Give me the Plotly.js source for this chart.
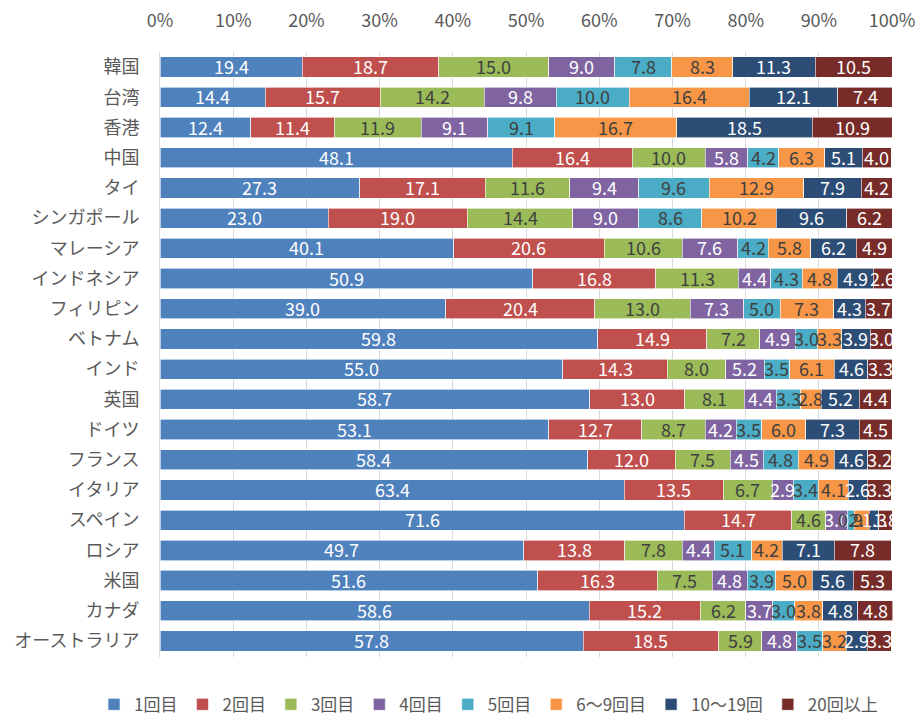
<!DOCTYPE html>
<html><head><meta charset="utf-8">
<script src="https://cdn.plot.ly/plotly-3.0.1.min.js"></script>
<style>html,body{margin:0;padding:0;background:#fff}#chart{width:918px;height:715px}</style>
</head><body><div id="chart"></div>
<script>
const countries = ["韓国","台湾","香港","中国","タイ","シンガポール","マレーシア","インドネシア","フィリピン","ベトナム","インド","英国","ドイツ","フランス","イタリア","スペイン","ロシア","米国","カナダ","オーストラリア"];
const seriesNames = ["1回目","2回目","3回目","4回目","5回目","6～9回目","10～19回","20回以上"];
const v1 = [19.4,14.4,12.4,48.1,27.3,23.0,40.1,50.9,39.0,59.8,55.0,58.7,53.1,58.4,63.4,71.6,49.7,51.6,58.6,57.8];
const v2 = [18.7,15.7,11.4,16.4,17.1,19.0,20.6,16.8,20.4,14.9,14.3,13.0,12.7,12.0,13.5,14.7,13.8,16.3,15.2,18.5];
const v3 = [15.0,14.2,11.9,10.0,11.6,14.4,10.6,11.3,13.0,7.2,8.0,8.1,8.7,7.5,6.7,4.6,7.8,7.5,6.2,5.9];
const v4 = [9.0,9.8,9.1,5.8,9.4,9.0,7.6,4.4,7.3,4.9,5.2,4.4,4.2,4.5,2.9,3.0,4.4,4.8,3.7,4.8];
const v5 = [7.8,10.0,9.1,4.2,9.6,8.6,4.2,4.3,5.0,3.0,3.5,3.3,3.5,4.8,3.4,0.9,5.1,3.9,3.0,3.5];
const v6 = [8.3,16.4,16.7,6.3,12.9,10.2,5.8,4.8,7.3,3.3,6.1,2.8,6.0,4.9,4.1,2.1,4.2,5.0,3.8,3.2];
const v7 = [11.3,12.1,18.5,5.1,7.9,9.6,6.2,4.9,4.3,3.9,4.6,5.2,7.3,4.6,2.6,1.3,7.1,5.6,4.8,2.9];
const v8 = [10.5,7.4,10.9,4.0,4.2,6.2,4.9,2.6,3.7,3.0,3.3,4.4,4.5,3.2,3.3,1.8,7.8,5.3,4.8,3.3];
const xTicks = [0,10,20,30,40,50,60,70,80,90,100];
const xTickLabels = ["0%","10%","20%","30%","40%","50%","60%","70%","80%","90%","100%"];

const values = [v1,v2,v3,v4,v5,v6,v7,v8];
const colors = ["#4F81BD","#C0504D","#9BBB59","#8064A2","#4BACC6","#F79646","#2C4D75","#772C2A"];
const txtColors = ["#FFFFFF","#FFFFFF","#404040","#FFFFFF","#404040","#404040","#FFFFFF","#FFFFFF"];
const font = "Noto Sans CJK JP, sans-serif";

const traces = values.map((v,i)=>({
  type:'bar', orientation:'h', name:seriesNames[i],
  y:countries, x:v,
  marker:{color:colors[i], line:{color:'#FFFFFF', width:0.6}},
  textposition:'none', hoverinfo:'skip'
}));

// value labels placed at segment centres via the data axes
const annotations = [];
countries.forEach((c,r)=>{
  let cum = 0;
  values.forEach((v,i)=>{
    annotations.push({x:cum + v[r]/2, y:c, xref:'x', yref:'y', text:v[r].toFixed(1),
      showarrow:false, yshift:1, font:{family:font, size:18, color:txtColors[i]}});
    cum += v[r];
  });
});

const layout = {
  width:918, height:715,
  margin:{l:160, r:25, t:52, b:58, autoexpand:false},
  barmode:'stack', bargap:0.33,
  paper_bgcolor:'#fff', plot_bgcolor:'#fff',
  font:{family:font, color:'#595959'},
  annotations:annotations,
  xaxis:{side:'top', range:[0,100.12], tickvals:xTicks, ticktext:xTickLabels,
    showgrid:true, gridcolor:'#D9D9D9', gridwidth:1, zeroline:false,
    tickfont:{family:font, size:18, color:'#595959'}, ticks:'', ticklabelstandoff:20, fixedrange:true},
  yaxis:{type:'category', autorange:'reversed', showline:true, linecolor:'#D9D9D9', linewidth:1,
    ticks:'', ticklabelstandoff:16, tickfont:{family:font, size:18, color:'#595959'}},
  legend:{orientation:'h', x:-0.09, xanchor:'left', y:-0.079, yanchor:'middle',
    font:{family:font, size:17, color:'#595959'}, traceorder:'normal', itemwidth:30, itemclick:false},
  showlegend:true
};
Plotly.newPlot('chart', traces, layout, {displayModeBar:false, staticPlot:true});
</script></body></html>
